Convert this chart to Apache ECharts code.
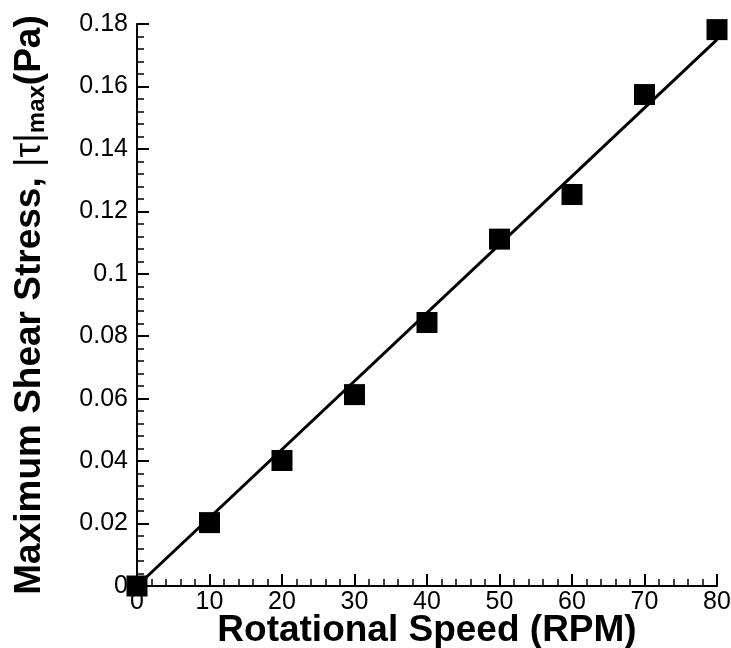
<!DOCTYPE html>
<html>
<head>
<meta charset="utf-8">
<script src="https://cdn.jsdelivr.net/npm/echarts@6/dist/echarts.min.js"></script>
<style>
html,body{margin:0;padding:0;background:#fff;}
#chart{width:731px;height:648px;}
</style>
</head>
<body>
<div id="chart"></div>
<script>
// Data
var rpm = [0, 10, 20, 30, 40, 50, 60, 70, 80];
var shearStress = [0, 0.0203, 0.0402, 0.0613, 0.0844, 0.1111, 0.1254, 0.1574, 0.1782];
// Fitted line end points
var fitRpm = [0, 80];
var fitStress = [0, 0.175];
// Axis ranges / ticks
var xMin = 0, xMax = 80, xStep = 10;
var yMin = 0, yMax = 0.18, yStep = 0.02;

var FONT = '"Liberation Sans", Arial, Helvetica, sans-serif';

var chart = echarts.init(document.getElementById('chart'), null, {renderer: 'canvas'});
var option = {
  animation: false,
  backgroundColor: '#ffffff',
  grid: {left: 137, right: 14, top: 24, bottom: 62, containLabel: false, outerBoundsMode: 'none'},
  xAxis: {
    type: 'value', min: xMin, max: xMax, interval: xStep,
    name: 'Rotational Speed (RPM)',
    nameLocation: 'middle', nameGap: 26, nameMoveOverlap: false,
    nameTextStyle: {fontFamily: FONT, fontSize: 37, fontWeight: 'bold', color: '#000', verticalAlign: 'top'},
    axisLine: {show: true, lineStyle: {color: '#000', width: 2}},
    axisTick: {show: true, inside: true, length: 12, lineStyle: {color: '#000', width: 2}},
    minorTick: {show: true, splitNumber: 5, length: 7, lineStyle: {color: '#000', width: 1.5}},
    splitLine: {show: false},
    axisLabel: {fontFamily: FONT, fontSize: 25, color: '#000', margin: 4}
  },
  yAxis: {
    type: 'value', min: yMin, max: yMax, interval: yStep,
    name: '{b|Maximum Shear Stress, }{r||τ|}{s|max}{b|(Pa)}',
    nameLocation: 'middle', nameGap: 87, nameRotate: 90, nameMoveOverlap: false,
    nameTextStyle: {
      fontFamily: FONT, color: '#000',
      rich: {
        b: {fontFamily: FONT, fontSize: 37, fontWeight: 'bold', color: '#000', lineHeight: 40},
        r: {fontFamily: FONT, fontSize: 37, fontWeight: 'normal', color: '#000', lineHeight: 40},
        s: {fontFamily: FONT, fontSize: 24, fontWeight: 'bold', color: '#000', padding: [14, 0, 0, 0], lineHeight: 24}
      }
    },
    axisLine: {show: true, lineStyle: {color: '#000', width: 2}},
    axisTick: {show: true, inside: true, length: 12, lineStyle: {color: '#000', width: 2}},
    minorTick: {show: true, splitNumber: 5, length: 7, lineStyle: {color: '#000', width: 1.5}},
    splitLine: {show: false},
    axisLabel: {fontFamily: FONT, fontSize: 25, color: '#000', margin: 9}
  },
  series: [
    {
      type: 'line',
      data: fitRpm.map(function (x, i) { return [x, fitStress[i]]; }),
      showSymbol: false, symbol: 'none',
      lineStyle: {color: '#000', width: 3},
      z: 2
    },
    {
      type: 'scatter',
      data: rpm.map(function (x, i) { return [x, shearStress[i]]; }),
      symbol: 'rect', symbolSize: 21,
      itemStyle: {color: '#000', opacity: 1},
      z: 3
    }
  ]
};
chart.setOption(option);
</script>
</body>
</html>
